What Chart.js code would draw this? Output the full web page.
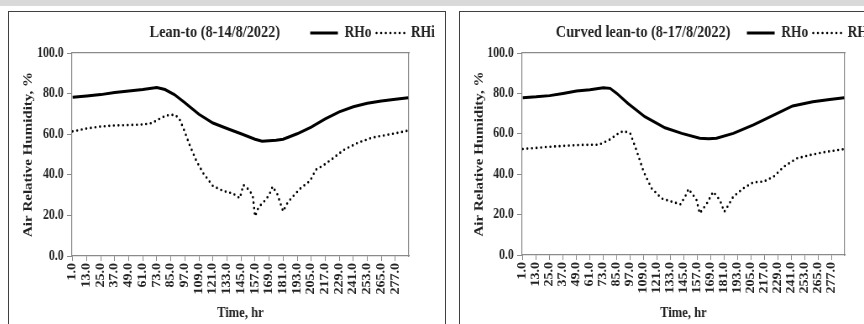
<!DOCTYPE html>
<html>
<head>
<meta charset="utf-8">
<script src="https://cdn.jsdelivr.net/npm/chart.js@4/dist/chart.umd.min.js"></script>
<style>
  body { margin: 0; width: 864px; height: 324px; overflow: hidden; background: #fff; position: relative; }
  .band { position: absolute; left: 0; top: 0; width: 864px; height: 6px; background: #d9d9d9; }
  .panel { position: absolute; top: 11px; height: 330px; border: 1px solid #404040; overflow: hidden; background: #fff; }
  #p1 { left: 8px; width: 436px; }
  #p2 { left: 459px; width: 430px; }
  /* the source picture is squeezed sideways, so the canvas is too */
  canvas { display: block; transform: scaleX(0.84); transform-origin: 0 0; }
</style>
</head>
<body>
<div class="band"></div>
<div class="panel" id="p1"><canvas id="c1" width="519" height="312"></canvas></div>
<div class="panel" id="p2"><canvas id="c2" width="502" height="312"></canvas></div>
<script>
// x tick labels (time step)
const timeTicks = [1, 13, 25, 37, 49, 61, 73, 85, 97, 109, 121, 133, 145, 157, 169, 181, 193, 205, 217, 229, 241, 253, 265, 277];
const yTicks = [0, 20, 40, 60, 80, 100];

// Lean-to (8-14/8/2022)
const leanRHoTime = [1, 13, 25, 37, 49, 61, 73, 80, 88, 97, 109, 121, 133, 145, 157, 163, 169, 175, 181, 193, 205, 217, 229, 241, 253, 265, 277, 288];
const leanRHo = [78.2, 78.8, 79.5, 80.5, 81.3, 82.0, 83.0, 82.0, 79.5, 75.5, 69.8, 65.5, 62.8, 60.2, 57.5, 56.5, 56.8, 57.0, 57.5, 60.2, 63.5, 67.5, 71.0, 73.5, 75.2, 76.3, 77.2, 78.0];
const leanRHiTime = [1, 13, 25, 37, 49, 61, 69, 75, 81, 88, 92, 96, 101, 107, 113, 121, 130, 138, 144, 147, 151, 155, 157, 160, 165, 169, 172, 176, 181, 184, 188, 196, 204, 209, 215, 222, 233, 245, 257, 269, 280, 288];
const leanRHi = [61.4, 62.8, 63.8, 64.3, 64.5, 64.8, 65.5, 67.5, 69.2, 69.6, 68.0, 62.5, 54.8, 46.6, 40.5, 34.5, 32.0, 30.8, 28.5, 35.0, 33.0, 30.0, 19.5, 24.0, 27.0, 30.0, 34.2, 30.5, 22.0, 25.5, 28.5, 33.4, 37.0, 42.5, 44.5, 47.4, 52.3, 55.8, 58.3, 59.6, 60.8, 61.8];

// Curved lean-to (8-17/8/2022)
const curvedRHoTime = [1, 13, 25, 37, 49, 61, 73, 79, 85, 95, 110, 128, 143, 159, 167, 174, 189, 207, 225, 242, 260, 275, 288];
const curvedRHo = [77.9, 78.3, 78.9, 80.0, 81.2, 81.8, 82.8, 82.5, 80.0, 75.0, 68.5, 63.0, 60.2, 57.8, 57.5, 57.8, 60.2, 64.4, 69.3, 73.8, 75.9, 77.0, 77.9];
const curvedRHiTime = [1, 13, 25, 37, 54, 69, 78, 86, 91, 97, 103, 109, 116, 125, 134, 142, 147, 149, 153, 156, 159, 165, 171, 177, 181, 185, 189, 198, 207, 216, 225, 234, 246, 260, 272, 288];
const curvedRHi = [52.5, 53.0, 53.6, 54.0, 54.5, 54.6, 56.9, 60.0, 61.4, 60.2, 51.1, 41.2, 33.0, 28.0, 26.4, 25.1, 30.0, 32.7, 29.7, 27.5, 20.6, 25.1, 31.3, 27.2, 21.4, 25.0, 28.9, 33.0, 36.0, 36.3, 38.8, 43.7, 47.9, 49.8, 51.1, 52.4];

Chart.defaults.font.family = "'Liberation Serif', 'Times New Roman', serif";
Chart.defaults.font.weight = "bold";
Chart.defaults.color = "#222";

const axisGray = "#8a8a8a";

// chart title sits on the same line as the legend
const panelTitle = {
   id: "panelTitle",
   afterDraw(chart, args, opts) {
      const box = chart.legend.legendHitBoxes[0];
      const ctx = chart.ctx;
      ctx.save();
      ctx.font = "bold 17px 'Liberation Serif', serif";
      ctx.fillStyle = "#222";
      ctx.textAlign = "center";
      ctx.textBaseline = "middle";
      ctx.fillText(opts.text, opts.x, box.top + box.height / 2);
      ctx.restore();
   },
};

function points(times, values) {
   return times.map((t, i) => ({ x: t, y: values[i] }));
}

function makeChart(id, title, titleX, rhoT, rho, rhiT, rhi, yWidth, rightWidth, xHeight) {
   new Chart(document.getElementById(id), {
      type: "line",
      data: {
         datasets: [
            {
               label: "RHo",
               data: points(rhoT, rho),
               borderColor: "#000",
               backgroundColor: "transparent",
               borderWidth: 3,
               pointRadius: 0,
               xAxisID: "x",
               yAxisID: "y",
            },
            {
               label: "RHi",
               data: points(rhiT, rhi),
               borderColor: "#000",
               backgroundColor: "transparent",
               borderWidth: 2.6,
               borderDash: [0, 5.5],
               borderCapStyle: "round",
               pointRadius: 0,
               xAxisID: "x",
               yAxisID: "y",
            },
         ],
      },
      options: {
         responsive: false,
         animation: false,
         layout: { padding: { top: 7, right: 6, left: 0, bottom: 0 } },
         plugins: {
            legend: {
               position: "top",
               align: "end",
               labels: {
                  // flat box = line sample, keeps the dataset dash
                  boxWidth: 33,
                  boxHeight: 0,
                  padding: 6,
                  color: "#222",
                  font: { size: 16, weight: "bold" },
               },
            },
            tooltip: { enabled: false },
            panelTitle: { text: title, x: titleX },
         },
         scales: {
            x: {
               type: "linear",
               position: "bottom",
               min: 0.5,
               max: 288.5,
               afterBuildTicks: (scale) => {
                  scale.ticks = timeTicks.map((v) => ({ value: v }));
               },
               afterFit: (scale) => {
                  scale.height = xHeight;
               },
               ticks: {
                  autoSkip: false,
                  minRotation: 90,
                  maxRotation: 90,
                  padding: 2,
                  font: { size: 14 },
                  callback: (v) => v.toFixed(1),
               },
               grid: { drawOnChartArea: false, tickLength: 5, color: axisGray },
               border: { color: axisGray, width: 1.2 },
               title: { display: true, text: "Time, hr", font: { size: 15 }, padding: { top: 0, bottom: 2 } },
            },
            y: {
               position: "left",
               min: 0,
               max: 100,
               afterBuildTicks: (scale) => {
                  scale.ticks = yTicks.map((v) => ({ value: v }));
               },
               afterFit: (scale) => {
                  scale.width = yWidth;
               },
               ticks: { padding: 4, font: { size: 14 }, callback: (v) => v.toFixed(1) },
               grid: { drawOnChartArea: false, tickLength: 6, color: axisGray },
               border: { color: axisGray, width: 1.2 },
               title: {
                  display: true,
                  text: "Air Relative Humidity, %",
                  font: { size: 15 },
                  padding: { top: 14, bottom: 0 },
               },
            },
            // frame of the plot area: top and right edges
            x2: {
               type: "linear",
               position: "top",
               ticks: { display: false },
               grid: { display: false, drawTicks: false },
               border: { color: axisGray, width: 1.2 },
               afterFit: (scale) => {
                  scale.height = 2;
               },
            },
            y2: {
               type: "linear",
               position: "right",
               ticks: { display: false },
               grid: { display: false, drawTicks: false },
               border: { color: axisGray, width: 1.2 },
               afterFit: (scale) => {
                  scale.width = rightWidth;
               },
            },
         },
      },
      plugins: [panelTitle],
   });
}

makeChart("c1", "Lean-to (8-14/8/2022)", 245, leanRHoTime, leanRHo, leanRHiTime, leanRHi, 75, 37, 68);
makeChart("c2", "Curved lean-to (8-17/8/2022)", 218, curvedRHoTime, curvedRHo, curvedRHiTime, curvedRHi, 74, 38, 69);
</script>
</body>
</html>
